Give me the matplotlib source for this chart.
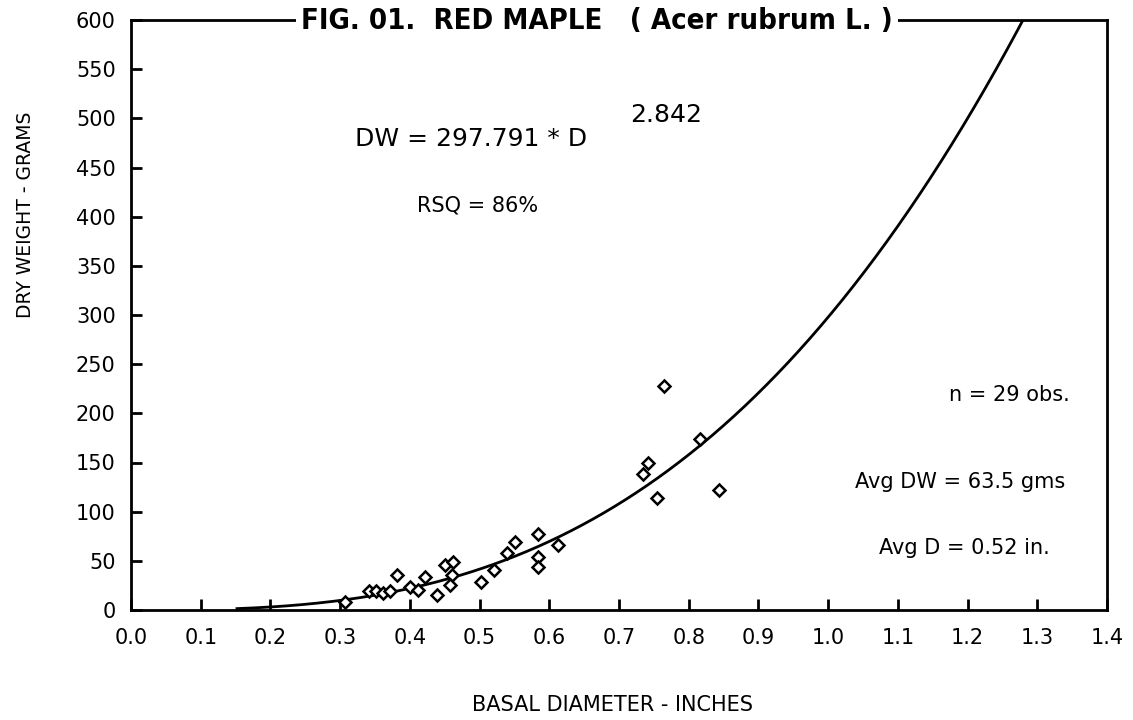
import numpy as np
import matplotlib
matplotlib.use("Agg")
import matplotlib.pyplot as plt

# Observed data (basal diameter in inches, dry weight in grams)
diam = [0.307, 0.342, 0.352, 0.362, 0.371, 0.381, 0.400, 0.412, 0.422, 0.439,
        0.450, 0.462, 0.460, 0.458, 0.502, 0.520, 0.540, 0.551, 0.584, 0.584,
        0.584, 0.613, 0.735, 0.742, 0.754, 0.764, 0.816, 0.844]
dw = [8, 19, 19, 17, 19, 36, 23, 20, 34, 15,
      46, 49, 36, 25, 28, 41, 58, 69, 77, 54,
      44, 66, 138, 150, 114, 228, 174, 122]

coef_a = 297.791
coef_b = 2.842
curve_start = 0.152

x_ticks = [0.0, 0.1, 0.2, 0.3, 0.4, 0.5, 0.6, 0.7, 0.8, 0.9, 1.0, 1.1, 1.2, 1.3, 1.4]
y_ticks = [0, 50, 100, 150, 200, 250, 300, 350, 400, 450, 500, 550, 600]

W, H = 1133, 720
fig = plt.figure(figsize=(W / 100, H / 100), dpi=100)
fig.patch.set_facecolor("white")

L, R, B, T = 131, 1107, 610, 20
ax = fig.add_axes([L / W, 1 - B / H, (R - L) / W, (B - T) / H])
ax.set_xlim(0, 1.4)
ax.set_ylim(0, 600)

xc = np.linspace(curve_start, 1.4, 400)
yc = coef_a * xc ** coef_b
ax.plot(xc, yc, color="black", lw=2.0, clip_on=True)
ax.plot(diam, dw, linestyle="none", marker="D", markersize=6.5,
        markerfacecolor="white", markeredgecolor="black", markeredgewidth=1.8)

for s in ax.spines.values():
    s.set_linewidth(2)
ax.set_xticks(x_ticks)
ax.set_yticks(y_ticks)
ax.set_xticklabels([f"{v:.1f}" for v in x_ticks])
ax.set_yticklabels([str(v) for v in y_ticks])
ax.tick_params(axis="both", direction="in", length=8, width=2, labelsize=15,
               colors="black")
ax.tick_params(axis="x", pad=13)
ax.tick_params(axis="y", pad=11)

fam = "DejaVu Sans"
def ftext(px, py, s, **kw):
    fig.text(px / W, 1 - py / H, s, family=fam, color="black", **kw)

ftext(597, 21, "FIG. 01.  RED MAPLE   ( Acer rubrum L. )", fontsize=21,
      fontweight="bold", fontstretch="condensed", ha="center", va="center",
      bbox=dict(facecolor="white", edgecolor="none", pad=4))
ftext(355, 139, "DW = 297.791 * D", fontsize=18, ha="left", va="center")
ftext(630, 115, "2.842", fontsize=18, ha="left", va="center")
ftext(478, 205, "RSQ = 86%", fontsize=15, ha="center", va="center")
ftext(1070, 395, "n = 29 obs.", fontsize=15, ha="right", va="center")
ftext(1065, 482, "Avg DW = 63.5 gms", fontsize=15, ha="right", va="center")
ftext(1050, 548, "Avg D = 0.52 in.", fontsize=15, ha="right", va="center")
ftext(612, 705, "BASAL DIAMETER - INCHES", fontsize=15, ha="center", va="center")
ftext(26, 215, "DRY WEIGHT - GRAMS", fontsize=13.5, ha="center", va="center",
      rotation=90)

fig.savefig("out.png", dpi=100, facecolor="white")
